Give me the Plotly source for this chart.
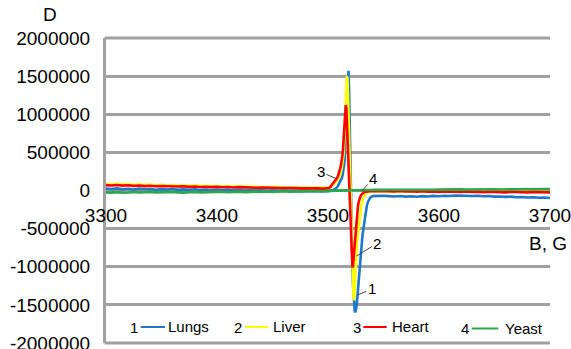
import plotly.graph_objects as go

# ---------------- data (field B in G, signal D in thousands) ----------------
field_G = [
    3300, 3305, 3310, 3315, 3320, 3325, 3330, 3335, 3340, 3345,
    3350, 3355, 3360, 3365, 3370, 3375, 3380, 3385, 3390, 3395,
    3400, 3405, 3410, 3415, 3420, 3425, 3430, 3435, 3440, 3445,
    3450, 3455, 3460, 3465, 3470, 3475, 3480, 3485, 3490, 3495,
    3500, 3501, 3502, 3503, 3504, 3505, 3506, 3507, 3508, 3509, 3510,
    3510.5, 3511, 3511.5, 3512, 3512.5, 3513, 3513.5, 3514, 3514.5, 3515,
    3515.5, 3516, 3516.5, 3517, 3517.5, 3518, 3518.5, 3519, 3519.5, 3520,
    3520.5, 3521, 3521.5, 3522, 3522.5, 3523, 3523.5, 3524, 3524.5, 3525,
    3525.5, 3526, 3526.5, 3527, 3527.5, 3528,
    3529, 3530, 3531, 3532, 3533, 3534, 3535, 3536, 3537, 3538, 3539,
    3540, 3541, 3542, 3543, 3544, 3545, 3546, 3547, 3548, 3549, 3550,
    3555, 3560, 3565, 3570, 3575, 3580, 3585, 3590, 3595, 3600,
    3605, 3610, 3615, 3620, 3625, 3630, 3635, 3640, 3645, 3650,
    3655, 3660, 3665, 3670, 3675, 3680, 3685, 3690, 3695, 3700,
]

lungs_k = [
    25, 18, 28, 15, 22, 12, 24, 16, 20, 10, 18, 12, 20, 8, 15, 10, 16, 6, 12, 4,
    10, 2, 8, 0, 5, -3, 4, -5, 2, -8, 0, -6, -2, -10, -4, -12, -6, -10, -8, -12,
    -10, -9, -7, -4, 0, 6, 14, 24, 40, 60, 85,
    98, 112, 128, 145, 165, 190, 225, 270, 330, 400,
    520, 800, 1000, 1180, 1340, 1520, 1570, 1300, 850, 400,
    50, -350, -700, -1000, -1220, -1380, -1490, -1570, -1600, -1580,
    -1540, -1480, -1390, -1280, -1170, -1060,
    -880, -730, -600, -490, -380, -280, -200, -150, -115, -95, -82,
    -76, -72, -70, -73, -69, -72, -68, -71, -67, -70, -68,
    -74, -78, -72, -80, -76, -82, -74, -78, -70, -75,
    -68, -72, -66, -70, -65, -72, -68, -76, -72, -80,
    -78, -84, -80, -88, -85, -92, -88, -95, -92, -98,
]

liver_k = [
    85, 80, 88, 78, 83, 75, 80, 72, 77, 69, 74, 66, 71, 63, 68, 60, 65, 57, 62, 55,
    58, 52, 56, 49, 54, 47, 51, 45, 49, 43, 47, 41, 45, 39, 42, 37, 40, 35, 38, 34,
    33, 38, 45, 54, 65, 78, 92, 108, 126, 148, 175,
    195, 215, 240, 270, 310, 355, 400, 470, 600, 780,
    960, 1140, 1300, 1500, 1480, 1250, 950, 650, 330, 60,
    -200, -480, -760, -1020, -1260, -1410, -1440, -1250, -1060, -900,
    -800, -710, -630, -560, -500, -430,
    -320, -200, -135, -90, -60, -40, -28, -20, -15, -12, -14,
    -9, -12, -7, -11, -8, -12, -6, -10, -7, -11, -8,
    -10, -14, -8, -15, -11, -16, -9, -13, -7, -14,
    -10, -15, -8, -12, -6, -13, -9, -14, -10, -16,
    -11, -15, -9, -13, -10, -17, -12, -15, -11, -14,
]

heart_k = [
    70, 66, 72, 64, 68, 61, 65, 58, 63, 56, 60, 54, 58, 52, 55, 48, 53, 46, 50, 44,
    48, 42, 46, 40, 44, 38, 41, 36, 40, 34, 37, 32, 35, 30, 33, 28, 30, 26, 28, 24,
    25, 32, 45, 62, 80, 100, 120, 140, 160, 190, 230,
    260, 290, 320, 355, 395, 460, 540, 650, 790, 940,
    1060, 1120, 1090, 960, 760, 540, 330, 150, -40, -250,
    -480, -720, -920, -1010, -990, -900, -800, -690, -580, -480,
    -400, -330, -265, -205, -160, -125,
    -85, -58, -40, -28, -20, -15, -12, -9, -8, -10, -6,
    -9, -5, -8, -4, -7, -5, -9, -6, -8, -5, -7,
    -8, -12, -6, -14, -10, -15, -9, -16, -12, -18,
    -11, -17, -14, -20, -13, -19, -15, -22, -16, -20,
    -18, -24, -17, -22, -19, -25, -18, -23, -20, -24,
]

yeast_k = [
    -24, -28, -22, -30, -26, -20, -27, -23, -18, -25, -21, -26, -19, -24, -28, -22, -18, -24, -20, -26,
    -22, -17, -23, -19, -15, -21, -17, -22, -16, -13, -19, -14, -10, -16, -12, -9, -13, -8, -10, -6,
    -5, -4, -6, -3, -4, -2, -3, -1, -2, 0, -1,
    0, 1, 0, -1, 0, 1, 0, 2, 1, 0,
    1, 2, 1, 0, 2, 1, 3, 2, 1, 2,
    3, 2, 1, 3, 2, 4, 3, 2, 3, 4,
    3, 5, 4, 3, 5, 4,
    5, 4, 6, 5, 7, 6, 5, 7, 6, 8, 7,
    6, 8, 7, 9, 8, 7, 9, 8, 10, 9, 8,
    10, 9, 11, 10, 12, 9, 11, 13, 10, 12,
    14, 11, 13, 15, 12, 14, 16, 13, 15, 17,
    14, 16, 18, 15, 17, 19, 16, 18, 20, 18,
]

series_names = ["Lungs", "Liver", "Heart", "Yeast"]
series_numbers = ["1", "2", "3", "4"]
series_colors = ["#1F78C8", "#FFFF00", "#FF0000", "#2AA84A"]
series_values_k = [lungs_k, liver_k, heart_k, yeast_k]

y_tick_vals = [2000000, 1500000, 1000000, 500000, 0, -500000, -1000000, -1500000, -2000000]
y_tick_text = ["2000000", "1500000", "1000000", "500000", "0", "-500000", "-1000000", "-1500000", "-2000000"]
x_tick_vals = [3300, 3400, 3500, 3600, 3700]
x_tick_text = ["3300", "3400", "3500", "3600", "3700"]

# ---------------- figure ----------------
W, H = 571, 349
L, R, T, B = 106, 21, 38, 6
PW, PH = W - L - R, H - T - B


def px(xp):
    return (xp - L) / PW


def py(yp):
    return (H - B - yp) / PH


FONT = "Liberation Sans, Arial, sans-serif"
GRID = "#A0A0A0"
TICK_SIZE = 19

fig = go.Figure()
for name, col, vals in zip(series_names, series_colors, series_values_k):
    fig.add_trace(go.Scatter(
        x=field_G, y=[v * 1000 for v in vals], mode="lines", name=name,
        line=dict(color=col, width=2.6), showlegend=False,
    ))

fig.update_layout(
    width=W, height=H,
    margin=dict(l=L, r=R, t=T, b=B, pad=0, autoexpand=False),
    paper_bgcolor="white", plot_bgcolor="white",
    font=dict(family=FONT, size=TICK_SIZE, color="black"),
    showlegend=False,
    xaxis=dict(
        range=[3300, 3700], tickvals=x_tick_vals, ticktext=x_tick_text,
        anchor="free", position=0.5, showgrid=False, zeroline=False, showline=False,
        ticks="outside", ticklen=8, tickcolor="rgba(0,0,0,0)",
        ticklabeloverflow="allow", automargin=False,
        tickfont=dict(family=FONT, size=TICK_SIZE, color="black"),
    ),
    yaxis=dict(
        range=[-2000000, 2000000], tickvals=y_tick_vals, ticktext=y_tick_text,
        showgrid=True, gridcolor=GRID, gridwidth=3, zeroline=False,
        showline=True, linecolor=GRID, linewidth=3,
        ticks="outside", ticklen=9, tickcolor="rgba(0,0,0,0)",
        ticklabeloverflow="allow", automargin=False,
        tickfont=dict(family=FONT, size=TICK_SIZE, color="black"),
    ),
)

# top / bottom frame lines (coincide with the 2000000 and -2000000 gridlines)
for yy in (0, 1):
    fig.add_shape(type="line", xref="paper", yref="paper", x0=-0.003, x1=1, y0=yy, y1=yy,
                  line=dict(color=GRID, width=3), layer="below")

# axis titles
fig.add_annotation(text="D", xref="paper", yref="paper", x=px(50), y=py(14),
                   showarrow=False, xanchor="center", yanchor="middle",
                   font=dict(family=FONT, size=TICK_SIZE, color="black"))
fig.add_annotation(text="B, G", xref="paper", yref="paper", x=px(548), y=py(243),
                   showarrow=False, xanchor="center", yanchor="middle",
                   font=dict(family=FONT, size=TICK_SIZE, color="black"))

# numbered pointers to the curves
pointers = [
    ("3", 3508.1, 151000, -16, -7),
    ("4", 3530.6, -7000, 11, -13),
    ("2", 3525.6, -860000, 21, -13),
    ("1", 3526.6, -1370000, 14, -6),
]
for lbl, xx, yy, axp, ayp in pointers:
    fig.add_annotation(text=lbl, x=xx, y=yy, xref="x", yref="y",
                       showarrow=True, arrowhead=0, arrowwidth=1, arrowcolor="#404040",
                       ax=axp, ay=ayp, standoff=0,
                       font=dict(family=FONT, size=15, color="black"))

# legend (inside plot, bottom)
legend_layout = [
    # number centre x, line x0, line x1, label left, y
    (134.2, 140.7, 165.0, 166.0, 327.0),
    (238.3, 245.0, 268.3, 270.7, 327.0),
    (356.7, 363.3, 386.7, 390.0, 327.0),
    (465.0, 471.7, 498.3, 503.3, 328.5),
]
for num, name, col, (nx, lx0, lx1, tx, yy) in zip(series_numbers, series_names, series_colors, legend_layout):
    fig.add_annotation(text=num, xref="paper", yref="paper", x=px(nx), y=py(yy),
                       showarrow=False, xanchor="center", yanchor="middle",
                       font=dict(family=FONT, size=15, color="black"))
    fig.add_shape(type="line", xref="paper", yref="paper", x0=px(lx0), x1=px(lx1),
                  y0=py(yy), y1=py(yy), line=dict(color=col, width=2))
    fig.add_annotation(text=name, xref="paper", yref="paper", x=px(tx), y=py(yy - 0.5),
                       showarrow=False, xanchor="left", yanchor="middle",
                       font=dict(family=FONT, size=15, color="black"))

fig.write_html(
    "out.html",
    config={"displayModeBar": False},
    post_script="document.body.style.margin='0';document.body.style.overflow='hidden';",
)
